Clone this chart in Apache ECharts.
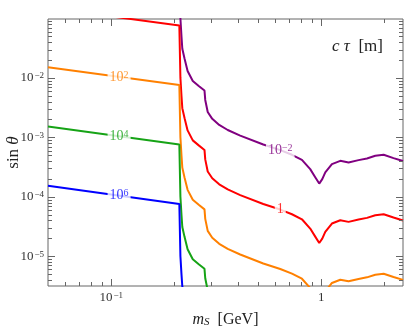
<!DOCTYPE html>
<html><head><meta charset="utf-8">
<script src="https://cdn.jsdelivr.net/npm/echarts@6/dist/echarts.min.js"></script>
<style>html,body{margin:0;padding:0;background:#fff}#c{width:407px;height:328px}</style>
</head><body><div id="c"></div>
<script>
// scalar mass m_S [GeV]
const massGeV = [0.05, 0.211, 0.2135, 0.216, 0.218, 0.2235, 0.231, 0.2445, 0.261, 0.278, 0.2803, 0.288, 0.3027, 0.3267, 0.3587, 0.4113, 0.5295, 0.638, 0.7253, 0.809, 0.886, 0.936, 0.978, 1.011, 1.045, 1.124, 1.232, 1.349, 1.505, 1.65, 1.808, 1.982, 2.208, 2.45];
// sin(theta) contours for c*tau [m]
const sinCtau1em2 = [null, 0.76, 0.1, 0.05, 0.031, 0.021, 0.0131, 0.0089, 0.00733, 0.00615, 0.00426, 0.00267, 0.00205, 0.00162, 0.00133, 0.00107, 0.000757, 0.00061, 0.000509, 0.000419, 0.000292, 0.000214, 0.000167, 0.000198, 0.000257, 0.000355, 0.000403, 0.000379, 0.000414, 0.000442, 0.00049, 0.000509, 0.000448, 0.0004];
const sinCtau1 = [0.151, 0.076, 0.01, 0.005, 0.0031, 0.0021, 0.00131, 0.00089, 0.000733, 0.000615, 0.000426, 0.000267, 0.000205, 0.000162, 0.000133, 0.000107, 0.0000757, 0.000061, 0.0000509, 0.0000419, 0.0000292, 0.0000214, 0.0000167, 0.0000198, 0.0000257, 0.0000355, 0.0000403, 0.0000379, 0.0000414, 0.0000442, 0.000049, 0.0000509, 0.0000448, 0.00004];
const sinCtau1e2 = [0.0151, 0.0076, 0.001, 0.0005, 0.00031, 0.00021, 0.000131, 0.000089, 0.0000733, 0.0000615, 0.0000426, 0.0000267, 0.0000205, 0.0000162, 0.0000133, 0.0000107, 0.00000757, 0.0000061, 0.00000509, 0.00000419, 0.00000292, 0.00000214, 0.00000167, 0.00000198, 0.00000257, 0.00000355, 0.00000403, 0.00000379, 0.00000414, 0.00000442, 0.0000049, 0.00000509, 0.00000448, 0.000004];
const sinCtau1e4 = [0.00153, 0.00076, 0.0001, 0.00005, 0.000031, 0.000021, 0.0000131, 0.0000089, 0.00000733, 0.00000615, 0.00000426, 0.00000267, 0.00000205, 0.00000162, 0.00000133, 0.00000107, 0.000000757, 0.00000061, 0.000000509, 0.000000419, 0.000000292, 0.000000214, 0.000000167, 0.000000198, 0.000000257, 0.000000355, 0.000000403, 0.000000379, 0.000000414, 0.000000442, 0.00000049, 0.000000509, 0.000000448, 0.0000004];
const sinCtau1e6 = [0.000153, 0.000076, 0.00001, 0.000005, 0.0000031, 0.0000021, 0.00000131, 0.00000089, 0.000000733, 0.000000615, 0.000000426, 0.000000267, 0.000000205, 0.000000162, 0.000000133, 0.000000107, 0.0000000757, 0.000000061, 0.0000000509, 0.0000000419, 0.0000000292, 0.0000000214, 0.0000000167, 0.0000000198, 0.0000000257, 0.0000000355, 0.0000000403, 0.0000000379, 0.0000000414, 0.0000000442, 0.000000049, 0.0000000509, 0.0000000448, 0.00000004];

const contourNames = ['10{sup|−2}', '1', '10{sup|2}', '10{sup|4}', '10{sup|6}'];
const contourLabelMass = [0.638, 0.638, 0.109, 0.109, 0.109];
const contourLabelSin = [0.00061, 0.000061, 0.0104, 0.00104, 0.000104];

const xMajorTicks = [0.1, 1];
const xMinorTicks = [0.06, 0.07, 0.08, 0.09, 0.2, 0.3, 0.4, 0.5, 0.6, 0.7, 0.8, 0.9, 2];
const yMajorTicks = [1e-5, 1e-4, 1e-3, 1e-2];
const yMinorTicks = [4e-6, 5e-6, 6e-6, 7e-6, 8e-6, 9e-6,
  2e-5, 3e-5, 4e-5, 5e-5, 6e-5, 7e-5, 8e-5, 9e-5,
  2e-4, 3e-4, 4e-4, 5e-4, 6e-4, 7e-4, 8e-4, 9e-4,
  2e-3, 3e-3, 4e-3, 5e-3, 6e-3, 7e-3, 8e-3, 9e-3,
  2e-2, 3e-2, 4e-2, 5e-2, 6e-2, 7e-2, 8e-2, 9e-2];

const X_MIN = 0.05, X_MAX = 2.45, Y_MIN = 3.16e-6, Y_MAX = 0.098;
const colors = ['#800080', '#ff0000', '#ff8000', '#16a316', '#0000ff'];
const contours = [sinCtau1em2, sinCtau1, sinCtau1e2, sinCtau1e4, sinCtau1e6];
const SERIF = 'Liberation Serif';

function powLabel(v) {
  const l = Math.log10(v), n = Math.round(l);
  if (Math.abs(l - n) > 1e-6) return '';
  if (n === 0) return '1';
  return '10{sup|' + (n < 0 ? '−' + (-n) : n) + '}';
}
const supRich = {sup: {fontSize: 9, fontFamily: SERIF, color: '#333', verticalAlign: 'top', padding: [0, 0, 0, 1]}};

function tickSeries(values, dim, len) {
  return {
    type: 'custom', silent: true, z: 5, clip: false,
    data: values.map(v => dim === 'x' ? [v, Y_MIN] : [X_MIN, v]),
    renderItem(params, api) {
      const cs = params.coordSys;
      const p = api.coord([api.value(0), api.value(1)]);
      const style = {stroke: '#666', lineWidth: 1};
      if (dim === 'x') {
        const x = Math.round(p[0]) + 0.5;
        return {type: 'group', children: [
          {type: 'line', shape: {x1: x, y1: cs.y + cs.height, x2: x, y2: cs.y + cs.height - len}, style},
          {type: 'line', shape: {x1: x, y1: cs.y, x2: x, y2: cs.y + len}, style}
        ]};
      }
      const y = Math.round(p[1]) + 0.5;
      return {type: 'group', children: [
        {type: 'line', shape: {x1: cs.x, y1: y, x2: cs.x + len, y2: y}, style},
        {type: 'line', shape: {x1: cs.x + cs.width, y1: y, x2: cs.x + cs.width - len, y2: y}, style}
      ]};
    }
  };
}

const series = contours.map((arr, i) => ({
  type: 'line', data: massGeV.map((m, k) => [m, arr[k]]), showSymbol: false, symbol: 'none',
  smooth: false, connectNulls: false, clip: true, silent: true, z: 2,
  lineStyle: {color: colors[i], width: 2}
}));
contourNames.forEach((txt, i) => {
  series.push({
    type: 'scatter', silent: true, z: 4, symbolSize: 2, itemStyle: {color: 'rgba(0,0,0,0)'},
    data: [[contourLabelMass[i], contourLabelSin[i]]],
    labelLayout: {hideOverlap: false},
    label: {show: true, position: 'inside', formatter: txt, color: colors[i],
      fontFamily: SERIF, fontSize: 14, backgroundColor: '#fff', padding: [1, 2],
      rich: {sup: {fontSize: 10, fontFamily: SERIF, color: colors[i], verticalAlign: 'top'}}}
  });
});
series.push(tickSeries(xMajorTicks, 'x', 7));
series.push(tickSeries(xMinorTicks, 'x', 4));
series.push(tickSeries(yMajorTicks, 'y', 7));
series.push(tickSeries(yMinorTicks, 'y', 4));

const chart = echarts.init(document.getElementById('c'), null, {renderer: 'canvas'});
chart.setOption({
  animation: false,
  backgroundColor: '#fff',
  grid: {left: 48, right: 4, top: 19, bottom: 42, show: true, borderColor: '#666', borderWidth: 1,
    backgroundColor: 'transparent', containLabel: false, outerBoundsMode: 'none'},
  xAxis: {
    type: 'log', logBase: 10, min: X_MIN, max: X_MAX,
    axisLine: {show: false}, axisTick: {show: false}, splitLine: {show: false}, minorTick: {show: false},
    axisLabel: {formatter: powLabel, margin: 5, color: '#333', fontFamily: SERIF, fontSize: 13, rich: supRich, showMinLabel: false, showMaxLabel: false},
    name: '{i|m}{s|S}  [GeV]', nameLocation: 'middle', nameGap: 26, nameMoveOverlap: false,
    nameTextStyle: {color: '#222', fontFamily: SERIF, fontSize: 16,
      rich: {i: {fontStyle: 'italic', fontFamily: SERIF, fontSize: 16, color: '#222'},
             s: {fontStyle: 'italic', fontFamily: SERIF, fontSize: 11, color: '#222', verticalAlign: 'bottom'}}}
  },
  yAxis: {
    type: 'log', logBase: 10, min: Y_MIN, max: Y_MAX,
    axisLine: {show: false}, axisTick: {show: false}, splitLine: {show: false}, minorTick: {show: false},
    axisLabel: {formatter: powLabel, margin: 4, color: '#333', fontFamily: SERIF, fontSize: 13, rich: supRich, showMinLabel: false, showMaxLabel: false},
    name: 'sin {i|θ}', nameLocation: 'middle', nameGap: 26, nameRotate: 90, nameMoveOverlap: false,
    nameTextStyle: {color: '#222', fontFamily: SERIF, fontSize: 17,
      rich: {i: {fontStyle: 'italic', fontFamily: SERIF, fontSize: 17, color: '#222'}}}
  },
  graphic: [{
    type: 'text', left: 332, top: 38, z: 10,
    style: {text: '{i|c τ}  [m]', fill: '#222', font: '17px "Liberation Serif"',
      rich: {i: {fontStyle: 'italic', fontFamily: SERIF, fontSize: 17, fill: '#222'}}}
  }],
  series
});
</script></body></html>
